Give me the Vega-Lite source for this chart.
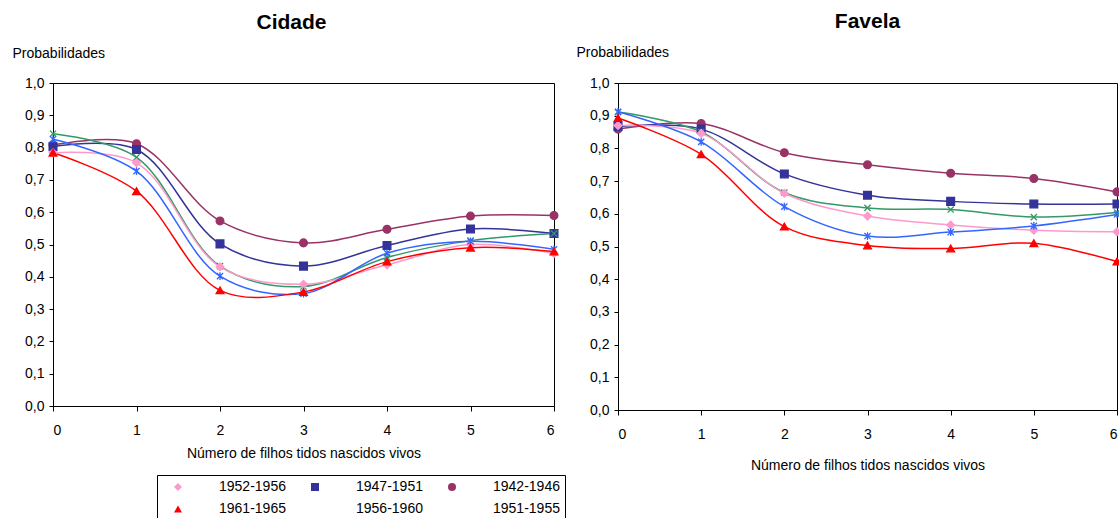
{
  "$schema": "https://vega.github.io/schema/vega-lite/v6.json",
  "autosize": {"type": "pad"},
  "padding": {"left": 11, "top": 10, "right": 0, "bottom": 0},
  "background": "white",
  "config": {
    "font": "Liberation Sans",
    "view": {"stroke": "#000000", "strokeWidth": 1},
    "axis": {"grid": false, "domainColor": "#000000", "tickColor": "#000000", "labelColor": "#000000", "titleColor": "#000000", "labelFont": "Liberation Sans", "titleFont": "Liberation Sans", "labelFontSize": 14, "titleFontSize": 14, "titleFontWeight": "normal"},
    "title": {"font": "Liberation Sans", "fontSize": 21, "fontWeight": "bold", "color": "#000000"},
    "legend": {"orient": "none", "legendX": 104, "legendY": 392, "direction": "horizontal", "columns": 3,
      "symbolSize": 64, "symbolStrokeWidth": 1.5, "symbolOffset": 9, "labelOffset": 34, "columnPadding": 13, "rowPadding": 8,
      "labelFontSize": 14, "labelFont": "Liberation Sans", "labelColor": "#000000", "padding": 5, "strokeColor": "#000000", "fillColor": "white"}
  },
  "data": {"values": [
    {"panel": "Cidade", "coorte": "1942-1946", "n": 0, "p": 0.808},
    {"panel": "Cidade", "coorte": "1942-1946", "n": 1, "p": 0.812},
    {"panel": "Cidade", "coorte": "1942-1946", "n": 2, "p": 0.573},
    {"panel": "Cidade", "coorte": "1942-1946", "n": 3, "p": 0.505},
    {"panel": "Cidade", "coorte": "1942-1946", "n": 4, "p": 0.547},
    {"panel": "Cidade", "coorte": "1942-1946", "n": 5, "p": 0.588},
    {"panel": "Cidade", "coorte": "1942-1946", "n": 6, "p": 0.59},
    {"panel": "Cidade", "coorte": "1947-1951", "n": 0, "p": 0.803},
    {"panel": "Cidade", "coorte": "1947-1951", "n": 1, "p": 0.794},
    {"panel": "Cidade", "coorte": "1947-1951", "n": 2, "p": 0.502},
    {"panel": "Cidade", "coorte": "1947-1951", "n": 3, "p": 0.433},
    {"panel": "Cidade", "coorte": "1947-1951", "n": 4, "p": 0.497},
    {"panel": "Cidade", "coorte": "1947-1951", "n": 5, "p": 0.548},
    {"panel": "Cidade", "coorte": "1947-1951", "n": 6, "p": 0.534},
    {"panel": "Cidade", "coorte": "1951-1955", "n": 0, "p": 0.843},
    {"panel": "Cidade", "coorte": "1951-1955", "n": 1, "p": 0.77},
    {"panel": "Cidade", "coorte": "1951-1955", "n": 2, "p": 0.433},
    {"panel": "Cidade", "coorte": "1951-1955", "n": 3, "p": 0.37},
    {"panel": "Cidade", "coorte": "1951-1955", "n": 4, "p": 0.46},
    {"panel": "Cidade", "coorte": "1951-1955", "n": 5, "p": 0.512},
    {"panel": "Cidade", "coorte": "1951-1955", "n": 6, "p": 0.534},
    {"panel": "Cidade", "coorte": "1952-1956", "n": 0, "p": 0.784},
    {"panel": "Cidade", "coorte": "1952-1956", "n": 1, "p": 0.753},
    {"panel": "Cidade", "coorte": "1952-1956", "n": 2, "p": 0.431},
    {"panel": "Cidade", "coorte": "1952-1956", "n": 3, "p": 0.377},
    {"panel": "Cidade", "coorte": "1952-1956", "n": 4, "p": 0.437},
    {"panel": "Cidade", "coorte": "1952-1956", "n": 5, "p": 0.5},
    {"panel": "Cidade", "coorte": "1952-1956", "n": 6, "p": 0.472},
    {"panel": "Cidade", "coorte": "1956-1960", "n": 0, "p": 0.826},
    {"panel": "Cidade", "coorte": "1956-1960", "n": 1, "p": 0.727},
    {"panel": "Cidade", "coorte": "1956-1960", "n": 2, "p": 0.402},
    {"panel": "Cidade", "coorte": "1956-1960", "n": 3, "p": 0.348},
    {"panel": "Cidade", "coorte": "1956-1960", "n": 4, "p": 0.473},
    {"panel": "Cidade", "coorte": "1956-1960", "n": 5, "p": 0.51},
    {"panel": "Cidade", "coorte": "1956-1960", "n": 6, "p": 0.485},
    {"panel": "Cidade", "coorte": "1961-1965", "n": 0, "p": 0.784},
    {"panel": "Cidade", "coorte": "1961-1965", "n": 1, "p": 0.665},
    {"panel": "Cidade", "coorte": "1961-1965", "n": 2, "p": 0.358},
    {"panel": "Cidade", "coorte": "1961-1965", "n": 3, "p": 0.353},
    {"panel": "Cidade", "coorte": "1961-1965", "n": 4, "p": 0.447},
    {"panel": "Cidade", "coorte": "1961-1965", "n": 5, "p": 0.49},
    {"panel": "Cidade", "coorte": "1961-1965", "n": 6, "p": 0.478},
    {"panel": "Favela", "coorte": "1942-1946", "n": 0, "p": 0.859},
    {"panel": "Favela", "coorte": "1942-1946", "n": 1, "p": 0.876},
    {"panel": "Favela", "coorte": "1942-1946", "n": 2, "p": 0.787},
    {"panel": "Favela", "coorte": "1942-1946", "n": 3, "p": 0.75},
    {"panel": "Favela", "coorte": "1942-1946", "n": 4, "p": 0.724},
    {"panel": "Favela", "coorte": "1942-1946", "n": 5, "p": 0.708},
    {"panel": "Favela", "coorte": "1942-1946", "n": 6, "p": 0.667},
    {"panel": "Favela", "coorte": "1947-1951", "n": 0, "p": 0.867},
    {"panel": "Favela", "coorte": "1947-1951", "n": 1, "p": 0.859},
    {"panel": "Favela", "coorte": "1947-1951", "n": 2, "p": 0.722},
    {"panel": "Favela", "coorte": "1947-1951", "n": 3, "p": 0.657},
    {"panel": "Favela", "coorte": "1947-1951", "n": 4, "p": 0.638},
    {"panel": "Favela", "coorte": "1947-1951", "n": 5, "p": 0.63},
    {"panel": "Favela", "coorte": "1947-1951", "n": 6, "p": 0.63},
    {"panel": "Favela", "coorte": "1951-1955", "n": 0, "p": 0.911},
    {"panel": "Favela", "coorte": "1951-1955", "n": 1, "p": 0.85},
    {"panel": "Favela", "coorte": "1951-1955", "n": 2, "p": 0.665},
    {"panel": "Favela", "coorte": "1951-1955", "n": 3, "p": 0.618},
    {"panel": "Favela", "coorte": "1951-1955", "n": 4, "p": 0.613},
    {"panel": "Favela", "coorte": "1951-1955", "n": 5, "p": 0.59},
    {"panel": "Favela", "coorte": "1951-1955", "n": 6, "p": 0.604},
    {"panel": "Favela", "coorte": "1952-1956", "n": 0, "p": 0.87},
    {"panel": "Favela", "coorte": "1952-1956", "n": 1, "p": 0.846},
    {"panel": "Favela", "coorte": "1952-1956", "n": 2, "p": 0.663},
    {"panel": "Favela", "coorte": "1952-1956", "n": 3, "p": 0.593},
    {"panel": "Favela", "coorte": "1952-1956", "n": 4, "p": 0.566},
    {"panel": "Favela", "coorte": "1952-1956", "n": 5, "p": 0.55},
    {"panel": "Favela", "coorte": "1952-1956", "n": 6, "p": 0.545},
    {"panel": "Favela", "coorte": "1956-1960", "n": 0, "p": 0.912},
    {"panel": "Favela", "coorte": "1956-1960", "n": 1, "p": 0.82},
    {"panel": "Favela", "coorte": "1956-1960", "n": 2, "p": 0.622},
    {"panel": "Favela", "coorte": "1956-1960", "n": 3, "p": 0.532},
    {"panel": "Favela", "coorte": "1956-1960", "n": 4, "p": 0.544},
    {"panel": "Favela", "coorte": "1956-1960", "n": 5, "p": 0.563},
    {"panel": "Favela", "coorte": "1956-1960", "n": 6, "p": 0.598},
    {"panel": "Favela", "coorte": "1961-1965", "n": 0, "p": 0.893},
    {"panel": "Favela", "coorte": "1961-1965", "n": 1, "p": 0.782},
    {"panel": "Favela", "coorte": "1961-1965", "n": 2, "p": 0.561},
    {"panel": "Favela", "coorte": "1961-1965", "n": 3, "p": 0.503},
    {"panel": "Favela", "coorte": "1961-1965", "n": 4, "p": 0.494},
    {"panel": "Favela", "coorte": "1961-1965", "n": 5, "p": 0.51},
    {"panel": "Favela", "coorte": "1961-1965", "n": 6, "p": 0.454}
  ]},
  "hconcat": [
    {
      "width": 501,
      "height": 323,
      "title": {"text": "Cidade", "anchor": "middle", "frame": "group", "offset": 13, "dx": -12},
      "transform": [{"filter": "datum.panel == 'Cidade'"}],
      "encoding": {
        "x": {"field": "n", "type": "quantitative", "scale": {"domain": [0, 6], "nice": false, "zero": false},
              "axis": {"values": [0, 1, 2, 3, 4, 5, 6], "format": "d", "tickSize": 5, "labelPadding": 12, "title": "Número de filhos tidos nascidos vivos", "titlePadding": 9}},
        "y": {"field": "p", "type": "quantitative", "scale": {"domain": [0, 1], "nice": false},
              "axis": {"values": [0, 0.1, 0.2, 0.3, 0.4, 0.5, 0.6, 0.7, 0.8, 0.9, 1.0], "labelExpr": "replace(format(datum.value, '.1f'), '.', ',')", "tickSize": 4, "labelPadding": 5,
                       "title": "Probabilidades", "titleAngle": 0, "titleAlign": "left", "titleBaseline": "alphabetic", "titleX": -41, "titleY": -26}}
      },
      "layer": [
        {
          "mark": {"type": "line", "interpolate": "catmull-rom", "strokeWidth": 1.5},
          "encoding": {
            "stroke": {"field": "coorte", "type": "nominal",
              "scale": {"domain": ["1942-1946", "1947-1951", "1951-1955", "1952-1956", "1956-1960", "1961-1965"], "range": ["#993366", "#333399", "#339966", "#FF99CC", "#3366FF", "#FF0000"]},
              "legend": null}
          }
        },
        {
          "mark": {"type": "point", "filled": true, "size": 60, "strokeWidth": 1.3, "opacity": 1},
          "encoding": {
            "color": {"field": "coorte", "type": "nominal",
              "scale": {"domain": ["1952-1956", "1947-1951", "1942-1946", "1961-1965", "1956-1960", "1951-1955"], "range": ["#FF99CC", "#333399", "#993366", "#FF0000", "#3366FF", "#339966"]},
              "legend": {"title": null}},
            "shape": {"field": "coorte", "type": "nominal",
              "scale": {"domain": ["1952-1956", "1947-1951", "1942-1946", "1961-1965", "1956-1960", "1951-1955"], "range": ["diamond", "square", "circle", "triangle-up", "M0,-1V1M-0.8,-0.8L0.8,0.8M-0.8,0.8L0.8,-0.8", "M-0.8,-0.8L0.8,0.8M-0.8,0.8L0.8,-0.8"]}},
            "stroke": {"field": "coorte", "type": "nominal", "legend": null}
          }
        }
      ]
    },
    {
      "width": 499,
      "height": 327,
      "title": {"text": "Favela", "anchor": "middle", "frame": "group", "offset": 13, "dx": 0},
      "transform": [{"filter": "datum.panel == 'Favela'"}],
      "encoding": {
        "x": {"field": "n", "type": "quantitative", "scale": {"domain": [0, 6], "nice": false, "zero": false},
              "axis": {"values": [0, 1, 2, 3, 4, 5, 6], "format": "d", "tickSize": 5, "labelPadding": 12, "title": "Número de filhos tidos nascidos vivos", "titlePadding": 17}},
        "y": {"field": "p", "type": "quantitative", "scale": {"domain": [0, 1], "nice": false},
              "axis": {"values": [0, 0.1, 0.2, 0.3, 0.4, 0.5, 0.6, 0.7, 0.8, 0.9, 1.0], "labelExpr": "replace(format(datum.value, '.1f'), '.', ',')", "tickSize": 4, "labelPadding": 5,
                       "title": "Probabilidades", "titleAngle": 0, "titleAlign": "left", "titleBaseline": "alphabetic", "titleX": -42, "titleY": -27}}
      },
      "layer": [
        {
          "mark": {"type": "line", "interpolate": "catmull-rom", "strokeWidth": 1.5},
          "encoding": {
            "stroke": {"field": "coorte", "type": "nominal", "legend": null}
          }
        },
        {
          "mark": {"type": "point", "filled": true, "size": 60, "strokeWidth": 1.3, "opacity": 1},
          "encoding": {
            "color": {"field": "coorte", "type": "nominal", "legend": {"title": null}},
            "shape": {"field": "coorte", "type": "nominal"},
            "stroke": {"field": "coorte", "type": "nominal", "legend": null}
          }
        }
      ]
    }
  ],
  "spacing": 64,
  "bounds": "flush",
  "resolve": {"scale": {"color": "shared", "shape": "shared", "stroke": "shared"}}
}
